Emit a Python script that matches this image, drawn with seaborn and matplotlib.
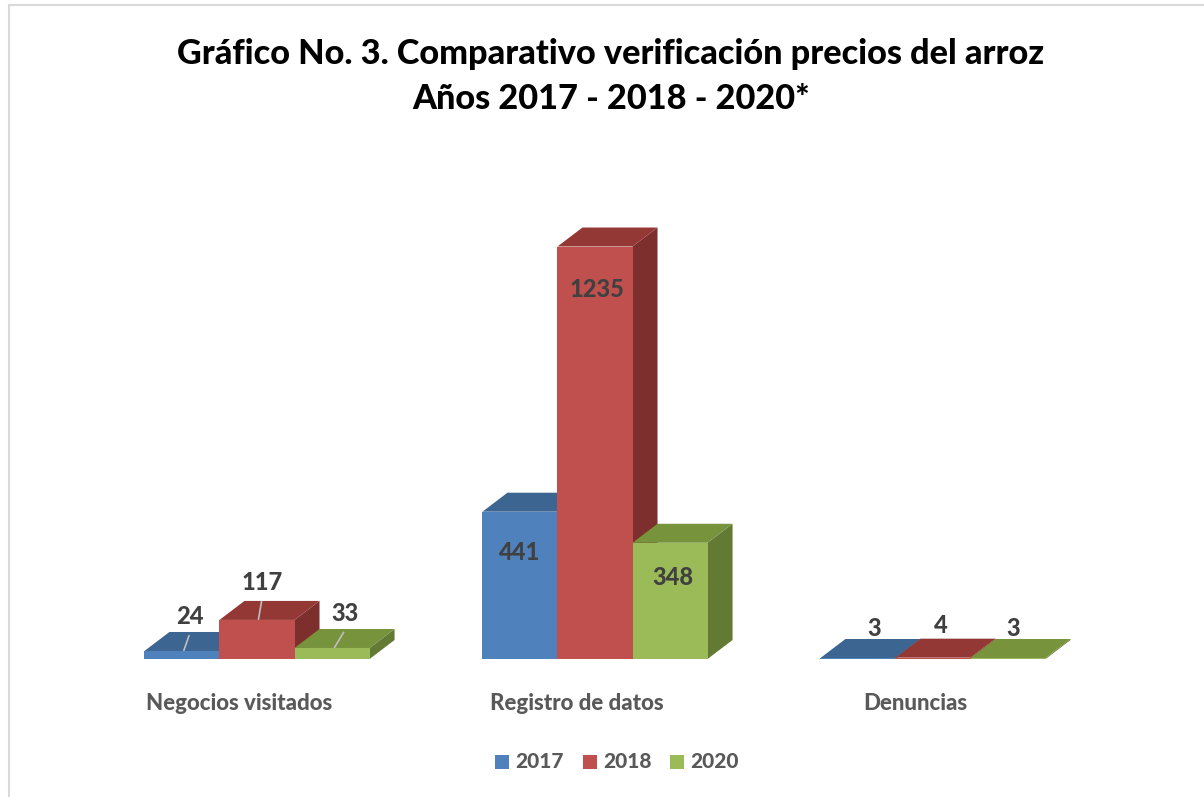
import matplotlib
matplotlib.use("Agg")
import matplotlib.pyplot as plt
import matplotlib.transforms as mtransforms
from matplotlib.patches import Polygon, Rectangle
import seaborn as sns
import pandas as pd

# ── datos ─────────────────────────────────────────────────────────────────────
categorias = ["Negocios visitados", "Registro de datos", "Denuncias"]
anios      = ["2017", "2018", "2020"]
v2017      = [24, 441, 3]
v2018      = [117, 1235, 4]
v2020      = [33, 348, 3]

front = ["#4F81BD", "#C0504D", "#9BBB59"]
top   = ["#3C6592", "#943836", "#77933C"]
side  = ["#2F5078", "#7D2F2E", "#627A33"]

FAM = ["Lato", "DejaVu Sans"]
BOLD = 900

df = pd.DataFrame({
    "categoria": categorias * 3,
    "anio": [a for a in anios for _ in categorias],
    "valor": v2017 + v2018 + v2020,
})

W, H = 1204, 797
fig = plt.figure(figsize=(W / 100, H / 100), dpi=100)
fig.patch.set_facecolor("white")

# ejes colocados en pixeles: base en y=659, 338 px por categoria
ylim_max = 1400
px_per_unit = 0.334
ax_h = ylim_max * px_per_unit
ax = fig.add_axes([88 / W, 138 / H, 1014 / W, ax_h / H])

sns.barplot(data=df, x="categoria", y="valor", hue="anio", order=categorias,
            hue_order=anios, palette=front, width=0.666, saturation=1,
            ax=ax, legend=False, linewidth=0)
ax.set_xlim(-0.5, 2.5)
ax.set_ylim(0, ylim_max)
ax.axis("off")

# profundidad 3D (estilo Excel)
dx = 25 / 338
dy = 19 / px_per_unit

patches = list(ax.patches)
for i, p in enumerate(patches):
    k = i // 3
    x0, w, h = p.get_x(), p.get_width(), p.get_height()
    z = 2 + (x0 + 0.5) * 3
    p.set_zorder(z + 0.2)
    ax.add_patch(Polygon([[x0 + w, 0], [x0 + w + dx, dy], [x0 + w + dx, h + dy], [x0 + w, h]],
                         closed=True, facecolor=side[k], edgecolor="none", zorder=z + 0.1))
    ax.add_patch(Polygon([[x0, h], [x0 + dx, h + dy], [x0 + w + dx, h + dy], [x0 + w, h]],
                         closed=True, facecolor=top[k], edgecolor="none", zorder=z + 0.3))

# etiquetas de datos (offsets en pixeles respecto al centro superior de la barra)
offsets = {
    (0, 0): (8, 34, True), (1, 0): (5, 37, True), (2, 0): (13, 34, True),
    (0, 1): (0, -41, False), (1, 1): (2, -43, False), (2, 1): (3, -35, False),
    (0, 2): (16, 29, False), (1, 2): (8, 32, False), (2, 2): (5, 29, False),
}
for i, p in enumerate(patches):
    k, c = i // 3, i % 3
    xc = p.get_x() + p.get_width() / 2
    h = p.get_height()
    ox, oy, leader = offsets[(k, c)]
    ax.annotate(f"{int(h)}", xy=(xc, h), xytext=(ox, oy), textcoords="offset pixels",
                ha="center", va="center", fontsize=17, fontweight=BOLD, family=FAM,
                color="#404040", zorder=50)
    if leader:
        ax.annotate("", xy=(xc + 1 / 338, h - 2 / px_per_unit), xytext=(ox - 1, oy - 14),
                    textcoords="offset pixels",
                    arrowprops=dict(arrowstyle="-", color="#BFBFBF", lw=1.2), zorder=49)

# etiquetas de categoria
shift = mtransforms.ScaledTranslation(-18 / 100, 0, fig.dpi_scale_trans)
for j, cat in enumerate(categorias):
    ax.text(j, -44 / px_per_unit, cat, ha="center", va="center", fontsize=16,
            fontweight=BOLD, family=FAM, color="#595959", transform=ax.transData + shift)

# titulo
fig.text(611 / W, 1 - 54 / H, "Gráfico No. 3. Comparativo verificación precios del arroz",
         ha="center", va="center", fontsize=24.7, fontweight=BOLD, family=FAM, color="black")
fig.text(611 / W, 1 - 99 / H, "Años 2017 - 2018 - 2020*",
         ha="center", va="center", fontsize=24.7, fontweight=BOLD, family=FAM, color="black")

# leyenda
for x_sq, lab, col in zip([495, 583, 670], anios, front):
    fig.patches.append(Rectangle((x_sq / W, 1 - 769 / H), 14 / W, 14 / H,
                                 transform=fig.transFigure, facecolor=col, edgecolor="none"))
    fig.text((x_sq + 20) / W, 1 - 762 / H, lab, ha="left", va="center", fontsize=15,
             fontweight=BOLD, family=FAM, color="#595959")

# marco gris
fig.patches.append(Rectangle((9 / W, -0.01), 1.02, 1 - 5 / H + 0.01, transform=fig.transFigure,
                             facecolor="none", edgecolor="#D9D9D9", lw=1.5))

fig.savefig("out.png", dpi=100, facecolor=fig.get_facecolor())
plt.close(fig)
